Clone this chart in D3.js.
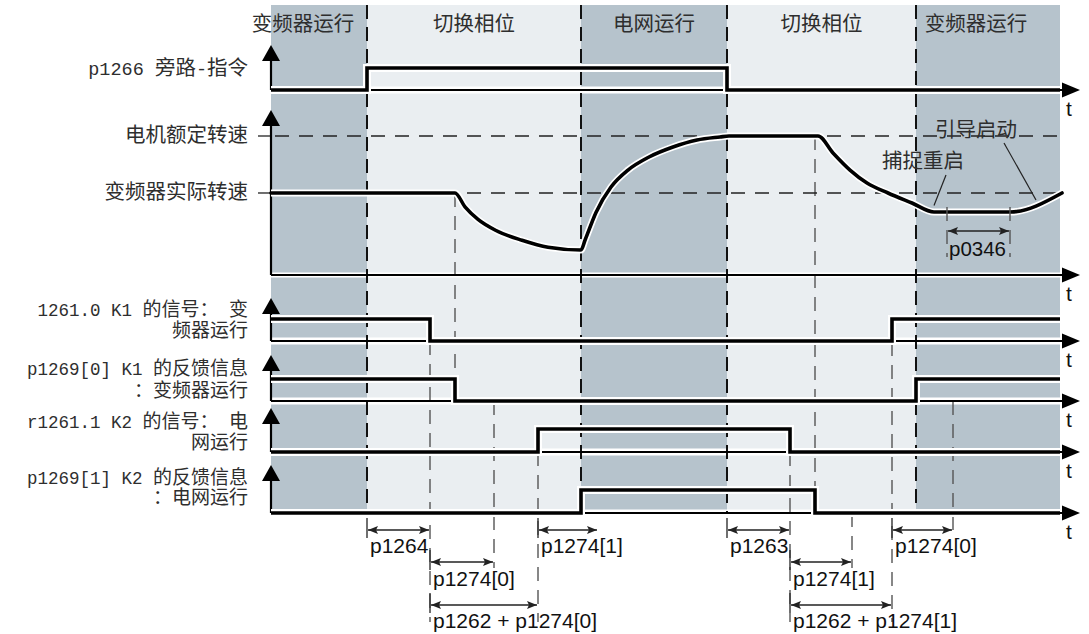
<!DOCTYPE html>
<html><head><meta charset="utf-8">
<script src="https://cdn.jsdelivr.net/npm/d3@7"></script>
<style>body{margin:0;background:#fff}svg text{white-space:pre}</style>
</head><body><svg id="c" width="1089" height="634"></svg>
<script>
// ---------------- DATA (time in arbitrary units) ----------------
const phaseBounds = [0, 96, 310, 456, 645, 789];
const phaseNames = ["变频器运行", "切换相位", "电网运行", "切换相位", "变频器运行"];
const phaseDark = [true, false, true, false, true];

const bypassCmd  = [[0,0],[96,1],[456,0],[789,0]];
const k1Signal   = [[0,1],[159,0],[621,1],[789,1]];
const k1Feedback = [[0,1],[184,0],[645,1],[789,1]];
const k2Signal   = [[0,0],[267,1],[519,0],[789,0]];
const k2Feedback = [[0,0],[310,1],[544,0],[789,0]];

const speedTime  = [0,184,194,207,225,251,277,310,314,325,340,357,378,402,426,449,458,547,562,579,596,617,641,663,739,791];
const speedValue = [0.59,0.59,0.49,0.40,0.32,0.25,0.20,0.18,0.25,0.45,0.633,0.755,0.849,0.921,0.971,0.993,1,1,0.878,0.755,0.662,0.59,0.518,0.453,0.453,0.59];
const ratedSpeed = 1.0;
const actualSpeed = 0.59;

const rowLabels = [
  ["p1266 旁路-指令"],
  ["1261.0 K1 的信号： 变", "频器运行"],
  ["p1269[0] K1 的反馈信息", "：变频器运行"],
  ["r1261.1 K2 的信号： 电", "网运行"],
  ["p1269[1] K2 的反馈信息", "：电网运行"]
];
const speedLabels = ["电机额定转速", "变频器实际转速"];

const eventTimes = [159, 184, 223, 267, 519, 544, 581, 621, 682];

const dimLabels = ["p1264","p1274[0]","p1262 + p1274[0]","p1274[1]","p1263","p1274[1]","p1262 + p1274[1]","p1274[0]"];
const dimStart  = [96, 159, 159, 267, 456, 519, 519, 621];
const dimEnd    = [159, 223, 267, 327, 519, 581, 621, 682];
const dimLevel  = [0, 1, 2, 0, 0, 1, 2, 0];

const annoText = ["捕捉重启", "引导启动"];
const restartHold = [676, 739];
const restartHoldLabel = "p0346";

// ---------------- LAYOUT ----------------
const svg = d3.select("#c");
const x = d3.scaleLinear().domain([0, 789]).range([271, 1060]);
const yTop = 5, yBottom = 513;
const axisEnd = 1080;
const textCol = "#2e2e2e";
const cjkFont = "'Noto Sans CJK SC', sans-serif";
const monoFont = "'Liberation Mono', monospace";
const sansFont = "'Liberation Sans', Arial, sans-serif";
const isCJK = s => /[\u3000-\u9fff\uff00-\uffef]/.test(s);

const rowLayout = [
  {base: 90,  high: 68,  tip: 45,  lab: [75],       cs: 20.5, ls: 18.5},
  {base: 341, high: 319, tip: 298, lab: [316, 337], cs: 19,   ls: 17.5},
  {base: 401, high: 379, tip: 355, lab: [375, 397], cs: 19,   ls: 17.5},
  {base: 452, high: 429, tip: 408, lab: [428, 449], cs: 19,   ls: 17.5},
  {base: 513, high: 490, tip: 465, lab: [484, 504], cs: 19,   ls: 17.5}
];
const signals = [bypassCmd, k1Signal, k1Feedback, k2Signal, k2Feedback];
const speedY = d3.scaleLinear().domain([0, 1]).range([275, 136]);
const speedTip = 110;

// backgrounds
const phases = d3.range(phaseNames.length).map(i => ({a: phaseBounds[i], b: phaseBounds[i+1], name: phaseNames[i], dark: phaseDark[i]}));
svg.append("g").selectAll("rect").data(phases).join("rect")
  .attr("x", d => x(d.a)).attr("width", d => x(d.b) - x(d.a))
  .attr("y", yTop).attr("height", yBottom - yTop)
  .attr("fill", d => d.dark ? "#b6c3cc" : "#eaeef1");

// white gaps along baselines
const gG = svg.append("g");
rowLayout.forEach(r => gG.append("line").attr("x1", x(0)).attr("x2", x(789)).attr("y1", r.base).attr("y2", r.base).attr("stroke", "#fff").attr("stroke-width", 7));
gG.append("line").attr("x1", x(0)).attr("x2", x(789)).attr("y1", speedY(0)).attr("y2", speedY(0)).attr("stroke", "#fff").attr("stroke-width", 5);

// phase header labels
const headerDx = [-16, 0, 0, 0, -12];
svg.append("g").selectAll("text").data(phases).join("text")
  .attr("x", (d, i) => (x(d.a) + x(d.b)) / 2 + headerDx[i]).attr("y", 31)
  .attr("text-anchor", "middle").attr("font-family", cjkFont).attr("font-size", 20.5)
  .attr("fill", textCol).text(d => d.name);

// phase boundary dashed lines
svg.append("g").selectAll("line").data(phaseBounds.slice(1, -1)).join("line")
  .attr("x1", d => x(d)).attr("x2", d => x(d)).attr("y1", yTop).attr("y2", yBottom)
  .attr("stroke", "#111").attr("stroke-width", 2).attr("stroke-dasharray", "14,8");

// event dashed lines (gray)
const eventExtent = [[341,622],[193,401],[401,568],[429,622],[452,622],[136,513],[513,568],[319,622],[401,537]];
svg.append("g").selectAll("line").data(eventTimes).join("line")
  .attr("x1", d => x(d)).attr("x2", d => x(d))
  .attr("y1", (d, i) => eventExtent[i][0]).attr("y2", (d, i) => eventExtent[i][1])
  .attr("stroke", "#555").attr("stroke-width", 1.4).attr("stroke-dasharray", "14,9");

// speed reference dashed lines
[ratedSpeed, actualSpeed].forEach((v, i) => {
  svg.append("line").attr("x1", 258).attr("x2", x(0)).attr("y1", speedY(v)).attr("y2", speedY(v)).attr("stroke", "#222").attr("stroke-width", 1.3);
  svg.append("line").attr("x1", x(0) + 4).attr("x2", x(789)).attr("y1", speedY(v)).attr("y2", speedY(v))
    .attr("stroke", "#222").attr("stroke-width", 1.3).attr("stroke-dasharray", "14,10");
  svg.append("text").attr("x", 248).attr("y", speedY(v) + 6).attr("text-anchor", "end")
    .attr("font-family", cjkFont).attr("font-size", 20.5).attr("fill", textCol).text(speedLabels[i]);
});

// axes helper
function vAxis(bottom, tip) {
  svg.append("line").attr("x1", x(0)).attr("x2", x(0)).attr("y1", bottom).attr("y2", tip + 12).attr("stroke", "#000").attr("stroke-width", 2.2);
  svg.append("path").attr("d", `M${x(0)},${tip} L${x(0)+9},${tip+16} L${x(0)-9},${tip+16} Z`).attr("fill", "#000");
}
function hAxis(y) {
  svg.append("line").attr("x1", x(0)).attr("x2", axisEnd - 10).attr("y1", y).attr("y2", y).attr("stroke", "#000").attr("stroke-width", 2);
  svg.append("path").attr("d", `M${axisEnd},${y} L${axisEnd-18},${y-7.5} L${axisEnd-18},${y+7.5} Z`).attr("fill", "#000");
  svg.append("text").attr("x", axisEnd - 14).attr("y", y + 26).attr("font-family", sansFont).attr("font-size", 21).attr("fill", "#111").text("t");
}

// digital rows
rowLayout.forEach((r, i) => {
  const ys = d3.scaleLinear().domain([0, 1]).range([r.base, r.high]);
  hAxis(r.base);
  vAxis(r.base, r.tip);
  const ln = d3.line().x(d => x(d[0])).y(d => ys(d[1])).curve(d3.curveStepAfter);
  svg.append("path").attr("d", ln(signals[i])).attr("fill", "none").attr("stroke", "#fff").attr("stroke-width", 8);
  svg.append("path").attr("d", ln(signals[i])).attr("fill", "none").attr("stroke", "#000").attr("stroke-width", 3.6).attr("stroke-linejoin", "miter");
  // labels
  rowLabels[i].forEach((lineTxt, j) => {
    const t = svg.append("text").attr("x", 248).attr("y", r.lab[j]).attr("text-anchor", "end").attr("fill", textCol);
    const segs = lineTxt.split(/([\u3000-\u9fff\uff00-\uffef]+)/).filter(s => s.length);
    t.selectAll("tspan").data(segs).join("tspan")
      .attr("font-family", s => isCJK(s) ? cjkFont : monoFont)
      .attr("font-size", s => isCJK(s) ? r.cs : r.ls)
      .text(s => s);
  });
});

// speed row
hAxis(speedY(0));
vAxis(speedY(0), speedTip);
const speedPts = speedTime.map((t, i) => [t, speedValue[i]]);
const sLine = d3.line().x(d => x(d[0])).y(d => speedY(d[1])).curve(d3.curveMonotoneX);
svg.append("path").attr("d", sLine(speedPts)).attr("fill", "none").attr("stroke", "#fff").attr("stroke-width", 7);
svg.append("path").attr("d", sLine(speedPts)).attr("fill", "none").attr("stroke", "#000").attr("stroke-width", 3.6).attr("stroke-linecap", "round");

// markers
const defs = svg.append("defs");
defs.append("marker").attr("id", "ah").attr("viewBox", "0 0 10 8").attr("refX", 10).attr("refY", 4)
  .attr("markerWidth", 10).attr("markerHeight", 8).attr("markerUnits", "userSpaceOnUse").attr("orient", "auto-start-reverse")
  .append("path").attr("d", "M0,0 L10,4 L0,8 L2,4 Z").attr("fill", "#222");

// annotations on speed curve
const annoPos = [{tx: 652, v: 0.77, l: [[675, 0.72], [663, 0.50]]}, {tx: 705, v: 0.993, l: [[733, 0.95], [765, 0.54]]}];
annoPos.forEach((a, i) => {
  svg.append("text").attr("x", x(a.tx)).attr("y", speedY(a.v)).attr("text-anchor", "middle")
    .attr("font-family", cjkFont).attr("font-size", 20.5).attr("fill", textCol).text(annoText[i]);
  svg.append("line").attr("x1", x(a.l[0][0])).attr("y1", speedY(a.l[0][1])).attr("x2", x(a.l[1][0])).attr("y2", speedY(a.l[1][1]))
    .attr("stroke", "#222").attr("stroke-width", 1.2);
});
// p0346
restartHold.forEach(t => svg.append("line").attr("x1", x(t)).attr("x2", x(t)).attr("y1", 207).attr("y2", 257)
  .attr("stroke", "#555").attr("stroke-width", 1.4).attr("stroke-dasharray", "14,9"));
svg.append("line").attr("x1", x(restartHold[0]) + 1).attr("x2", x(restartHold[1]) - 1).attr("y1", 231).attr("y2", 231)
  .attr("stroke", "#222").attr("stroke-width", 1.4).attr("marker-start", "url(#ah)").attr("marker-end", "url(#ah)");
svg.append("text").attr("x", x(restartHold[0]) + 2).attr("y", 256).attr("font-family", sansFont).attr("font-size", 20.5).attr("fill", "#111").text(restartHoldLabel);

// dimension arrows
const levelY = [530, 562, 605];
const labelY = [553, 586, 628];
const dims = dimLabels.map((l, i) => ({l, a: dimStart[i], b: dimEnd[i], lv: dimLevel[i]}));
const dg = svg.append("g");
dims.forEach(d => {
  dg.append("line").attr("x1", x(d.a)).attr("x2", x(d.a)).attr("y1", levelY[d.lv] - 12).attr("y2", levelY[d.lv] + 8).attr("stroke", "#333").attr("stroke-width", 1.4);
  dg.append("line").attr("x1", x(d.a) + 1).attr("x2", x(d.b) - 1).attr("y1", levelY[d.lv]).attr("y2", levelY[d.lv])
    .attr("stroke", "#222").attr("stroke-width", 1.4).attr("marker-start", "url(#ah)").attr("marker-end", "url(#ah)");
  dg.append("text").attr("x", x(d.a) + 3).attr("y", labelY[d.lv]).attr("font-family", sansFont).attr("font-size", 21).attr("fill", "#111").text(d.l);
});
</script></body></html>
